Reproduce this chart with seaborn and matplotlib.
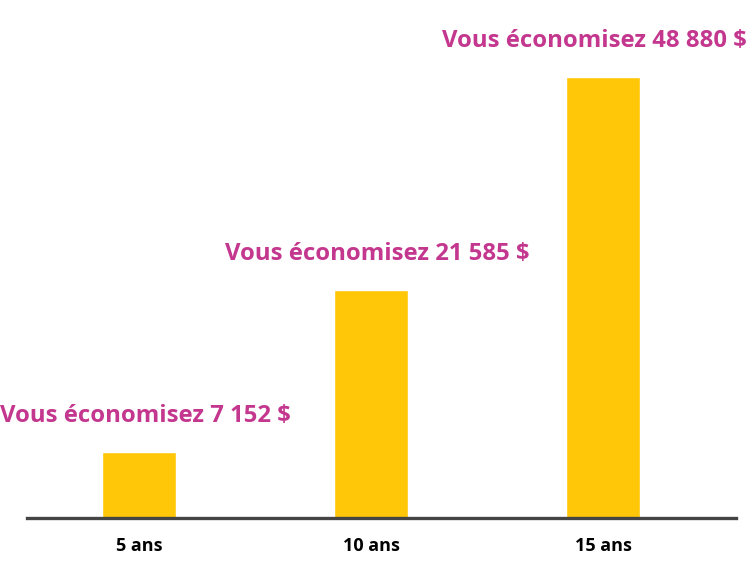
import matplotlib
matplotlib.use("Agg")
import matplotlib.pyplot as plt
import seaborn as sns
import pandas as pd

# values
periods = ["5 ans", "10 ans", "15 ans"]
savings = [7152, 21585, 48880]
bar_heights = [7330, 25220, 48880]   # drawn bar heights (the 10-year bar is taller than its label)
label_texts = ["Vous économisez 7 152 $", "Vous économisez 21 585 $", "Vous économisez 48 880 $"]

data = pd.DataFrame({"Période": periods, "Hauteur": bar_heights, "Économie": savings})

sns.set_theme(style="white")
plt.rcParams["font.family"] = ["Open Sans", "DejaVu Sans"]

fig = plt.figure(figsize=(7.48, 5.85), dpi=100)
ax = fig.add_axes([27 / 748, 67 / 585, 709 / 748, 518 / 585])

sns.barplot(
    data=data,
    x="Période",
    y="Hauteur",
    color="#FFC708",
    saturation=1,
    width=0.32,
    ax=ax
)

ax.set_xlim(-0.483, 2.573)
ax.set_ylim(0, 57350)
ax.set_xlabel("")
ax.set_ylabel("")
ax.set_yticks([])

for side in ["top", "right", "left"]:
    ax.spines[side].set_visible(False)
ax.spines["bottom"].set_color("#444444")
ax.spines["bottom"].set_linewidth(2.4)

ax.tick_params(axis="x", length=0, pad=14)
for lbl in ax.get_xticklabels():
    lbl.set_fontsize(13)
    lbl.set_fontweight("bold")
    lbl.set_color("black")

# small horizontal nudges (px) so outer labels stay inside the figure
nudges = [6.5, 6.5, -8.5]
for i, (h, txt) in enumerate(zip(bar_heights, label_texts)):
    ax.annotate(
        txt,
        xy=(i, h),
        xytext=(nudges[i] * 0.72, 21.6),
        textcoords="offset points",
        ha="center",
        va="baseline",
        fontsize=17.2,
        fontweight="bold",
        color="#C4378E",
        annotation_clip=False
    )

fig.savefig("out.png", dpi=100)
